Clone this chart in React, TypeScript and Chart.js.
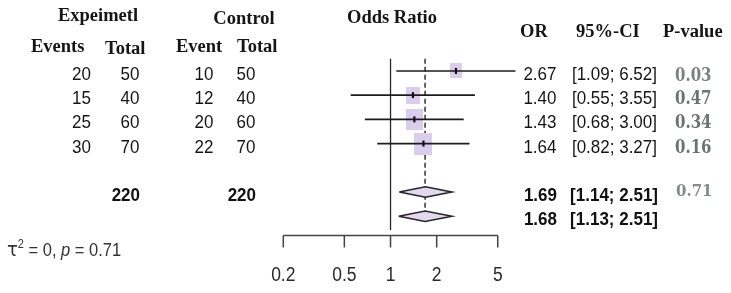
import { useEffect, useRef } from 'react';
import { Chart, registerables } from 'chart.js';

Chart.register(...registerables);

// Study-level data
const expEvents = [20, 15, 25, 30];
const expTotals = [50, 40, 60, 70];
const ctrlEvents = [10, 12, 20, 22];
const ctrlTotals = [50, 40, 60, 70];
const oddsRatios = [2.67, 1.4, 1.43, 1.64];
const ciLower = [1.09, 0.55, 0.68, 0.82];
const ciUpper = [6.52, 3.55, 3.0, 3.27];
const pValues = ['0.03', '0.47', '0.34', '0.16'];

// Pooled estimates: [OR, lower, upper]
const fixedEffect = [1.69, 1.14, 2.51];
const randomEffect = [1.68, 1.13, 2.51];
const pooledP = '0.71';
const tau2 = '0';
const heteroP = '0.71';

// Axis
const tickValues = [0.2, 0.5, 1, 2, 5];

// Row indices used on the vertical scale
const studyRows = [0, 1, 2, 3];
const fixedRow = 5;
const randomRow = 6;

const ROW_PX = 25.8;
const FIRST_ROW_PX = 66;
const HEIGHT = 293;
const WIDTH = 731;
const AXIS_Y = 235.5;

const BOX_FILL = '#dbcdee';
const DIAMOND_FILL = '#e3d8f1';
const INK = '#1c1c1c';

const SERIF_BOLD = 'bold 18.5px "Liberation Serif", "Times New Roman", serif';
const SANS = '17px "Liberation Sans", Arial, sans-serif';
const SANS_BOLD = 'bold 17px "Liberation Sans", Arial, sans-serif';
const NUM_SY = 1.1;

function drawText(
  ctx: CanvasRenderingContext2D,
  s: string,
  x: number,
  y: number,
  font: string,
  color: string,
  align: CanvasTextAlign = 'left',
  sy = 1
) {
  ctx.save();
  ctx.font = font;
  ctx.fillStyle = color;
  ctx.textAlign = align;
  ctx.textBaseline = 'alphabetic';
  ctx.translate(x, y);
  ctx.scale(1, sy);
  ctx.fillText(s, 0, 0);
  ctx.restore();
}

function makeBox(w: number, h: number) {
  const c = document.createElement('canvas');
  c.width = Math.round(w);
  c.height = Math.round(h);
  const g = c.getContext('2d')!;
  g.fillStyle = BOX_FILL;
  g.fillRect(0, 0, c.width, c.height);
  return c;
}

const fmt = (v: number) => v.toFixed(2);
const ciText = (lo: number, hi: number) => `[${fmt(lo)}; ${fmt(hi)}]`;

export default function App() {
  const ref = useRef<HTMLCanvasElement | null>(null);

  useEffect(() => {
    document.body.style.margin = '0';
    const canvas = ref.current;
    if (!canvas) return;

    // Mantel-Haenszel weights set the box sizes
    const weights = expEvents.map((a, i) => {
      const b = expTotals[i] - a;
      const c = ctrlEvents[i];
      return (b * c) / (expTotals[i] + ctrlTotals[i]);
    });
    const boxes = weights.map((w) => makeBox(7.0 * Math.sqrt(w), 8.8 * Math.sqrt(w)));

    const xMin = 0.2;
    const xMax = 10;
    const pxPerDecade = 153.4;
    const left = 283.3;
    const right = left + Math.log10(xMax / xMin) * pxPerDecade;
    const yMin = -FIRST_ROW_PX / ROW_PX;
    const yMax = (HEIGHT - FIRST_ROW_PX) / ROW_PX;
    const axisRow = (AXIS_Y - FIRST_ROW_PX) / ROW_PX;
    const topRow = -0.5;
    const dh = 5.6 / ROW_PX;

    const diamond = (est: number[], row: number) => [
      { x: est[1], y: row },
      { x: est[0], y: row - dh },
      { x: est[2], y: row },
      { x: est[0], y: row + dh },
      { x: est[1], y: row },
    ];

    const lineBase = {
      showLine: true,
      pointRadius: 0,
      pointHoverRadius: 0,
      tension: 0,
      fill: false,
      clip: false as const,
    };

    const datasets: any[] = [
      {
        ...lineBase,
        data: [
          { x: randomEffect[0], y: topRow },
          { x: randomEffect[0], y: randomRow },
        ],
        borderColor: '#333',
        borderWidth: 1.5,
        borderDash: [5, 3],
        order: 5,
      },
      {
        data: oddsRatios.map((v, i) => ({ x: v, y: studyRows[i] })),
        showLine: false,
        pointStyle: boxes,
        pointRadius: 8,
        order: 4,
        clip: false,
      },
      {
        ...lineBase,
        data: [
          { x: 1, y: topRow },
          { x: 1, y: axisRow },
        ],
        borderColor: '#2a2a2a',
        borderWidth: 1.3,
        order: 2,
      },
      ...studyRows.map((r, i) => ({
        ...lineBase,
        data: [
          { x: ciLower[i], y: r },
          { x: ciUpper[i], y: r },
        ],
        borderColor: INK,
        borderWidth: 1.6,
        order: 1,
      })),
      {
        ...lineBase,
        data: diamond(fixedEffect, fixedRow),
        fill: 'shape',
        backgroundColor: DIAMOND_FILL,
        borderColor: '#262626',
        borderWidth: 1.6,
        order: 3,
      },
      {
        ...lineBase,
        data: diamond(randomEffect, randomRow),
        fill: 'shape',
        backgroundColor: DIAMOND_FILL,
        borderColor: '#262626',
        borderWidth: 1.6,
        order: 3,
      },
      {
        data: oddsRatios.map((v, i) => ({ x: v, y: studyRows[i] })),
        showLine: false,
        pointStyle: 'line',
        rotation: 90,
        pointRadius: 3,
        borderWidth: 2.2,
        borderColor: '#111',
        order: 0,
        clip: false,
      },
    ];

    const tablePlugin = {
      id: 'forestTable',
      afterDraw(chart: any) {
        const ctx: CanvasRenderingContext2D = chart.ctx;
        const xs = chart.scales.x;
        const ys = chart.scales.y;
        const rowY = (r: number) => ys.getPixelForValue(r);
        const dark = '#151515';

        // Column headers
        drawText(ctx, 'Expeimetl', 98, 21, SERIF_BOLD, dark, 'center');
        drawText(ctx, 'Control', 244, 24, SERIF_BOLD, dark, 'center');
        drawText(ctx, 'Odds Ratio', 392, 23, SERIF_BOLD, dark, 'center');
        drawText(ctx, 'OR', 520, 37, SERIF_BOLD, dark, 'left');
        drawText(ctx, '95%-CI', 576, 37, SERIF_BOLD, dark, 'left');
        drawText(ctx, 'P-value', 663, 37, SERIF_BOLD, dark, 'left');
        drawText(ctx, 'Events', 31, 52, SERIF_BOLD, dark, 'left');
        drawText(ctx, 'Total', 105, 54, SERIF_BOLD, dark, 'left');
        drawText(ctx, 'Event', 176, 52, SERIF_BOLD, dark, 'left');
        drawText(ctx, 'Total', 237, 52, SERIF_BOLD, dark, 'left');

        // Study rows
        studyRows.forEach((r, i) => {
          const y = rowY(r) + 9;
          drawText(ctx, String(expEvents[i]), 91, y, SANS, dark, 'right', NUM_SY);
          drawText(ctx, String(expTotals[i]), 139.5, y, SANS, dark, 'right', NUM_SY);
          drawText(ctx, String(ctrlEvents[i]), 213.5, y, SANS, dark, 'right', NUM_SY);
          drawText(ctx, String(ctrlTotals[i]), 255.5, y, SANS, dark, 'right', NUM_SY);
          drawText(ctx, fmt(oddsRatios[i]), 556.5, y, SANS, dark, 'right', NUM_SY);
          drawText(ctx, ciText(ciLower[i], ciUpper[i]), 657, y, SANS, dark, 'right', NUM_SY);
          drawText(
            ctx,
            pValues[i],
            675,
            y + (i === 0 ? 1 : 0),
            'bold 15px "DejaVu Serif", serif',
            i === 0 ? '#7b8181' : '#6b7272',
            'left',
            1.18
          );
        });

        // Pooled rows
        const sumExp = expTotals.reduce((a, b) => a + b, 0);
        const sumCtrl = ctrlTotals.reduce((a, b) => a + b, 0);
        const yF = rowY(fixedRow) + 9;
        const yR = rowY(randomRow) + 9;
        drawText(ctx, String(sumExp), 140, yF, SANS_BOLD, '#111', 'right', NUM_SY);
        drawText(ctx, String(sumCtrl), 256, yF, SANS_BOLD, '#111', 'right', NUM_SY);
        drawText(ctx, fmt(fixedEffect[0]), 557, yF, SANS_BOLD, '#111', 'right', NUM_SY);
        drawText(ctx, ciText(fixedEffect[1], fixedEffect[2]), 658, yF, SANS_BOLD, '#111', 'right', NUM_SY);
        drawText(ctx, fmt(randomEffect[0]), 557, yR, SANS_BOLD, '#111', 'right', NUM_SY);
        drawText(ctx, ciText(randomEffect[1], randomEffect[2]), 658, yR, SANS_BOLD, '#111', 'right', NUM_SY);
        drawText(ctx, pooledP, 676, rowY(fixedRow) + 4, 'bold 15px "DejaVu Serif", serif', '#858b8b', 'left', 1.15);

        // Heterogeneity note
        let tx = 7;
        const ty = 256;
        const base = '16.5px "Liberation Sans", Arial, sans-serif';
        const put = (s: string, font: string, dy = 0) => {
          drawText(ctx, s, tx, ty + dy, font, '#333', 'left', 1.1);
          ctx.save();
          ctx.font = font;
          tx += ctx.measureText(s).width;
          ctx.restore();
        };
        put('τ', '18px "DejaVu Sans", sans-serif');
        put('2', '11px "Liberation Sans", Arial, sans-serif', -8);
        put(` = ${tau2}, `, base);
        put('p', 'italic 16.5px "Liberation Sans", Arial, sans-serif');
        put(` = ${heteroP}`, base);

        // Bottom axis
        const x0 = xs.getPixelForValue(tickValues[0]);
        const x1 = xs.getPixelForValue(tickValues[tickValues.length - 1]);
        ctx.save();
        ctx.strokeStyle = '#444';
        ctx.lineWidth = 1.5;
        ctx.beginPath();
        ctx.moveTo(x0, AXIS_Y);
        ctx.lineTo(x1, AXIS_Y);
        tickValues.forEach((t) => {
          const px = xs.getPixelForValue(t);
          ctx.moveTo(px, AXIS_Y);
          ctx.lineTo(px, AXIS_Y + 12);
        });
        ctx.stroke();
        ctx.restore();
        tickValues.forEach((t) => {
          drawText(
            ctx,
            String(t),
            xs.getPixelForValue(t),
            281,
            '17.5px "Liberation Sans", Arial, sans-serif',
            '#2a2a2a',
            'center',
            1.12
          );
        });
      },
    };

    const chart = new Chart(canvas, {
      type: 'scatter',
      data: { datasets },
      options: {
        animation: false,
        responsive: false,
        devicePixelRatio: 1,
        layout: { padding: { left, right: WIDTH - right, top: 0, bottom: 0 } },
        plugins: { legend: { display: false }, tooltip: { enabled: false } },
        events: [],
        scales: {
          x: { type: 'logarithmic', min: xMin, max: xMax, display: false },
          y: { type: 'linear', min: yMin, max: yMax, reverse: true, display: false },
        },
      },
      plugins: [tablePlugin],
    });

    return () => chart.destroy();
  }, []);

  return (
    <div style={{ position: 'absolute', left: 0, top: 0, width: WIDTH, height: HEIGHT, background: '#fff' }}>
      <canvas ref={ref} width={WIDTH} height={HEIGHT} style={{ width: WIDTH, height: HEIGHT, display: 'block' }} />
    </div>
  );
}
